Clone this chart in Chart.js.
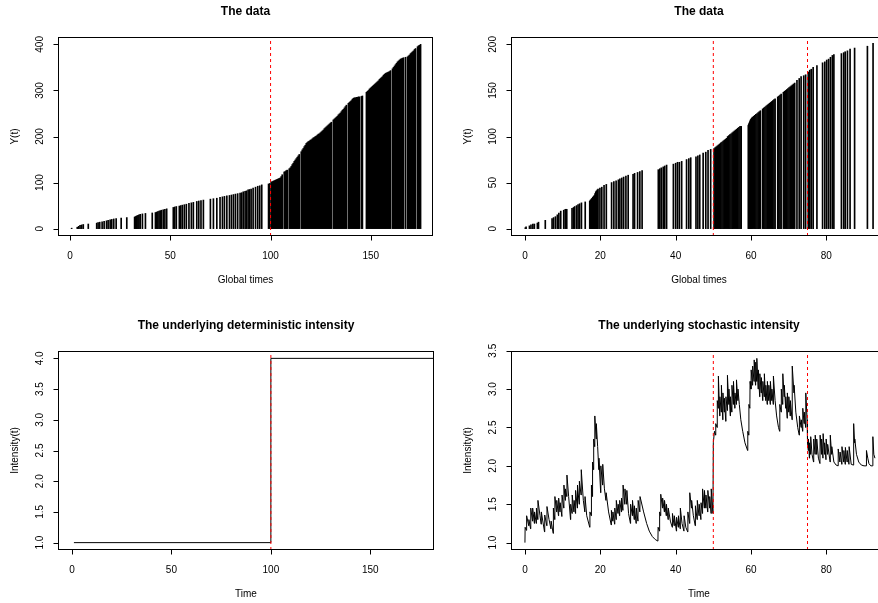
<!DOCTYPE html>
<html>
<head>
<meta charset="utf-8">
<script src="https://cdn.jsdelivr.net/npm/chart.js@4.4.1/dist/chart.umd.min.js"></script>
<style>
  html, body { margin: 0; padding: 0; background: #fff; }
  body { width: 878px; height: 603px; overflow: hidden; position: relative; }
  canvas { position: absolute; }
</style>
</head>
<body>
<canvas id="pTL" width="439" height="300" style="left:0;top:0"></canvas>
<canvas id="pTR" width="460" height="300" style="left:439px;top:0"></canvas>
<canvas id="pBL" width="439" height="303" style="left:0;top:300px"></canvas>
<canvas id="pBR" width="460" height="303" style="left:439px;top:300px"></canvas>
<script>
// --- panel 1: counting process, deterministic intensity (event times / Y(t))
const tlTimes = [0.8,3.6,4.3,5.0,5.8,6.6,9.1,13.3,14.0,14.8,16.0,17.0,18.2,19.0,20.0,20.8,21.8,23.0,25.5,28.3,
  32.2,32.6,33.0,33.4,33.9,34.4,35.0,36.1,37.6,41.0,42.6,43.2,43.8,44.4,45.0,45.6,46.5,47.3,48.2,
  51.5,52.2,53.0,54.5,55.2,56.0,57.0,58.0,59.3,60.5,61.5,63.2,64.2,65.3,66.5,70.0,71.5,73.2,
  74.8,76.0,77.0,78.2,79.5,80.5,81.5,82.5,83.6,84.8,85.6,86.4,87.3,88.0,88.8,89.5,90.3,91.3,92.5,93.6,94.6,95.6,99.0,99.6,
  100.3,100.8,101.3,101.8,102.3,102.8,103.3,103.8,104.3,104.8,105.3,105.8,106.8,107.3,107.8,108.3,
  109.3,109.8,110.3,110.8,111.3,111.8,112.3,112.8,113.3,113.8,114.3,
  115.3,115.8,116.3,116.8,117.3,117.8,118.3,118.8,119.3,119.8,120.3,120.8,121.3,121.8,122.3,122.8,123.3,123.8,
  124.3,124.8,125.3,125.8,126.3,126.8,127.3,127.8,128.3,128.8,129.3,129.8,130.3,
  131.3,131.8,132.3,132.8,133.3,133.8,134.3,134.8,135.3,135.8,136.3,136.8,137.3,137.8,
  138.8,139.3,139.8,140.3,140.8,141.3,141.8,142.3,142.8,143.3,143.8,144.3,145.3,145.8,
  147.8,148.3,148.8,149.3,149.8,150.3,150.8,151.3,151.8,152.3,152.8,153.3,153.8,154.3,154.8,155.3,155.8,156.3,156.8,
  157.3,157.8,158.3,158.8,159.3,159.8,160.8,161.3,161.8,162.3,162.8,163.3,163.8,164.3,164.8,165.3,165.8,166.3,
  167.3,168.3,168.8,169.3,169.8,170.3,170.8,171.3,171.8,172.3,173.3,173.8,174.3,174.8];
const tlCounts = [1,3,5,7,8,9,10,12,13,14,15,16,17,18,19,20,21,22,23,24,
  25,26,27,28,29,30,31,32,33,34,35,36,37,38,39,40,41,42,43,
  46,47,48,49,50,51,52,53,55,56,57,59,60,61,62,64,65,66,
  68,69,70,71,72,73,74,75,76,77,78,80,81,82,84,85,86,88,90,92,93,95,97,98,
  101,102,103,104,105,106,107,108,109,110,113,117,123,124,126,127,
  130,132,135,139,142,146,149,152,155,158,161,
  167,171,174,178,181,185,187,189,190,192,193,195,197,198,200,201,203,205,
  206,208,210,212,214,217,219,221,223,225,227,229,231,
  236,238,240,242,244,247,249,251,254,257,259,262,265,268,
  272,274,276,278,281,283,284,284,285,285,286,286,287,288,
  296,298,300,303,305,307,309,311,313,315,317,319,321,324,326,328,330,333,335,
  337,338,339,340,341,343,347,350,353,356,359,362,364,366,368,369,370,371,
  372,373,375,377,380,382,384,386,389,391,395,397,398,400];
const tlChanges = [100];

// --- panel 2: counting process, stochastic intensity
const trTimes = [0.1,0.3,1.2,1.6,2.1,2.5,3.3,3.6,5.4,7.2,7.6,8.1,8.6,9.0,9.5,10.3,10.7,11.1,12.5,12.9,13.2,
  13.7,14.1,14.5,15.0,16.0,17.2,17.4,17.6,17.8,18.0,18.2,18.4,18.6,18.8,19.0,19.2,19.4,19.9,20.4,21.0,21.6,
  23.0,23.6,24.2,24.8,25.2,25.7,26.2,26.8,27.4,28.7,29.1,29.9,30.5,31.1,35.4,35.8,36.2,36.7,37.1,37.6,
  39.4,40.0,40.5,41.0,41.6,42.9,43.5,44.0,45.4,45.9,46.4,47.3,48.0,48.6,49.3,
  50.2,50.5,50.8,51.1,51.4,51.7,52.0,52.3,52.6,52.9,53.2,53.5,53.8,54.1,54.4,54.7,55.0,55.3,55.6,55.9,56.2,56.5,56.8,57.1,57.4,
  59.3,59.4,59.5,59.6,59.7,59.8,59.9,60.0,60.2,60.4,60.7,61.0,61.3,61.6,61.9,62.2,62.5,
  63.1,63.4,63.7,64.0,64.3,64.6,64.9,65.2,65.5,65.8,66.1,66.4,67.1,67.4,67.7,68.0,
  68.6,68.9,69.2,69.5,69.8,70.1,70.4,70.7,71.0,71.3,71.6,72.2,72.8,73.3,
  74.0,74.5,75.2,75.6,76.0,76.5,77.5,79.0,79.6,80.1,80.6,81.1,81.6,82.0,84.0,84.6,85.0,85.6,86.3,87.5,90.9,92.4];
const trCounts = [1,2,3,4,5,5,6,7,9,11,12,13,15,17,19,20,21,21,22,23,24,
  25,26,27,28,29,30,31,32,33,34,35,36,38,40,41,42,43,44,45,47,48,
  50,51,52,53,54,55,56,57,58,59,60,61,62,63,64,65,66,67,68,69,
  70,71,72,72,73,75,76,77,78,79,80,82,83,85,86,
  87,88,89,90,91,92,93,94,95,96,97,98,100,101,102,103,104,105,106,107,108,109,110,111,111,
  112,113,114,115,116,117,118,119,120,121,122,123,124,125,126,127,128,
  130,131,132,133,134,135,136,137,138,139,140,141,143,144,145,146,
  148,149,150,151,152,153,154,155,156,157,158,161,163,165,
  166,167,170,172,173,175,177,180,181,183,184,186,188,189,190,191,192,193,195,196,198,201];
const trChanges = [50, 75];

// --- panel 3: deterministic intensity
const detTimes = [1, 100, 100, 182];
const detIntensity = [1, 1, 4, 4];
const blChanges = [100];

// --- panel 4: stochastic intensity path
const stoTimes = [0,0.05,0.4,0.45,1.0,1.05,1.5,1.55,2.0,2.05,2.5,2.55,3.0,3.05,3.4,3.45,4.0,4.3,4.35,5.2,5.25,5.8,5.85,6.4,6.9,6.95,7.5,
  7.55,7.9,7.95,8.4,8.45,8.9,8.95,9.3,9.35,9.8,9.85,10.3,10.35,10.7,10.75,11.1,11.15,11.6,
  12.1,12.15,12.5,12.55,13.0,13.05,13.4,13.45,13.9,13.95,14.4,14.45,14.9,14.95,15.5,15.9,15.95,16.4,17.2,
  17.25,17.6,17.65,17.9,17.95,18.2,18.25,18.5,18.55,18.9,18.95,19.3,19.6,19.65,20.1,20.15,20.6,20.65,21.1,21.5,21.55,22.2,22.9,
  22.95,23.3,23.35,23.8,23.85,24.2,24.25,24.7,24.75,25.1,25.15,25.6,25.65,26.0,26.05,26.5,26.55,27.0,27.05,27.5,
  28.0,28.05,28.5,28.55,29.0,29.05,29.5,29.55,30.0,30.05,30.5,30.55,
  31.5,32.3,33.0,33.8,34.6,35.3,
  35.35,35.7,35.75,36.0,36.05,36.5,36.55,37.0,37.05,37.5,37.55,38.0,38.05,38.6,39.1,39.15,39.6,39.65,40.2,40.25,
  40.7,40.75,41.2,41.25,41.7,42.2,42.25,42.7,43.2,43.25,43.7,43.75,44.2,44.25,44.7,45.2,45.25,45.7,45.75,46.2,
  46.25,46.7,46.75,47.1,47.15,47.6,47.65,48.0,48.05,48.5,48.55,49.0,49.05,49.4,49.45,49.9,
  50.0,50.3,50.6,50.65,51.0,51.05,51.3,51.35,51.7,51.75,52.1,52.15,52.5,52.55,52.9,52.95,53.3,53.35,53.7,53.75,
  54.1,54.15,54.5,54.55,54.9,54.95,55.3,55.35,55.7,55.75,56.1,56.15,56.5,56.55,56.9,57.3,57.8,58.4,59.1,
  59.15,59.4,59.45,59.7,59.75,60.0,60.05,60.4,60.45,60.8,60.85,61.2,61.25,61.5,61.55,61.9,61.95,62.3,62.35,62.7,
  62.75,63.1,63.15,63.5,63.55,63.9,63.95,64.3,64.35,64.7,64.75,65.1,65.15,65.5,65.55,65.9,65.95,66.4,66.8,67.3,67.6,
  67.65,68.0,68.05,68.4,68.45,68.8,68.85,69.2,69.25,69.6,69.65,70.0,70.05,70.4,70.45,70.9,70.95,71.4,71.45,71.9,
  72.4,72.8,72.85,73.3,73.35,73.7,73.75,74.1,74.15,74.5,74.55,74.9,
  75.0,75.2,75.25,75.5,75.55,75.8,75.85,76.2,76.6,76.65,77.0,77.05,77.4,77.45,77.9,78.3,78.35,78.7,78.75,79.1,
  79.15,79.5,79.55,79.9,79.95,80.3,80.35,81.0,81.05,81.4,81.45,82.0,82.6,83.1,83.15,83.6,83.65,84.1,84.15,84.6,
  84.65,85.0,85.05,85.5,85.55,86.0,86.05,86.6,87.2,87.25,87.5,87.55,88.0,88.6,89.3,90.0,90.6,90.65,91.0,91.3,
  91.8,92.3,92.35,92.6,92.9];
const stoIntensity = [1.00,1.20,1.16,1.35,1.22,1.30,1.18,1.45,1.28,1.45,1.25,1.40,1.25,1.45,1.30,1.55,1.35,1.24,1.40,1.14,1.36,1.22,1.47,1.30,1.18,1.28,1.12,
  1.45,1.30,1.60,1.40,1.55,1.35,1.58,1.40,1.52,1.34,1.62,1.45,1.75,1.55,1.70,1.60,1.88,1.60,
  1.30,1.50,1.38,1.62,1.40,1.55,1.38,1.68,1.45,1.75,1.50,1.80,1.62,1.95,1.55,1.40,1.60,1.35,1.20,
  1.40,1.35,1.75,1.60,2.05,1.95,2.35,2.25,2.65,2.35,2.55,2.25,1.95,2.10,1.65,2.00,1.75,2.02,1.70,1.55,1.65,1.40,1.23,
  1.42,1.28,1.40,1.24,1.45,1.30,1.55,1.38,1.50,1.35,1.55,1.40,1.58,1.42,1.75,1.50,1.70,1.50,1.68,1.38,
  1.25,1.50,1.35,1.55,1.30,1.48,1.25,1.45,1.28,1.55,1.40,1.60,
  1.40,1.25,1.15,1.08,1.04,1.02,
  1.20,1.15,1.40,1.35,1.63,1.45,1.58,1.40,1.55,1.35,1.50,1.30,1.45,1.28,1.20,1.38,1.22,1.35,1.15,1.33,
  1.20,1.35,1.18,1.45,1.25,1.15,1.35,1.20,1.14,1.40,1.25,1.65,1.45,1.55,1.35,1.22,1.48,1.30,1.55,1.35,
  1.50,1.30,1.52,1.38,1.70,1.45,1.68,1.45,1.62,1.40,1.68,1.45,1.60,1.38,1.70,1.38,
  2.30,2.45,2.40,2.55,2.50,2.85,2.75,3.17,2.65,2.90,2.70,3.05,2.60,2.95,2.70,2.88,2.58,2.90,2.72,3.18,
  2.80,3.00,2.65,2.90,2.70,3.05,2.80,3.10,2.75,2.95,2.80,3.12,2.85,3.00,2.80,2.60,2.45,2.30,2.20,
  2.45,2.40,2.80,2.75,3.10,3.00,3.25,3.05,3.30,3.10,3.38,3.05,3.35,3.10,3.40,3.00,3.25,2.90,3.20,2.95,
  3.15,2.85,3.10,2.90,3.20,2.85,3.05,2.80,3.10,2.85,3.05,2.80,3.10,2.85,3.00,2.80,3.17,2.85,2.65,2.50,2.45,
  2.80,2.70,3.00,2.80,3.20,2.90,3.05,2.75,2.90,2.62,2.95,2.70,2.90,2.65,2.85,2.60,3.30,2.95,3.05,2.70,
  2.50,2.40,2.65,2.50,2.60,2.45,2.75,2.55,2.70,2.50,2.95,2.60,
  2.30,2.20,2.35,2.10,2.30,2.15,2.38,2.15,2.05,2.35,2.15,2.40,2.15,2.35,2.10,2.03,2.40,2.15,2.35,2.10,
  2.42,2.15,2.30,2.08,2.35,2.15,2.28,2.05,2.40,2.15,2.25,2.05,2.01,2.00,2.22,2.05,2.18,2.02,2.25,2.05,
  2.20,2.02,2.24,2.05,2.20,2.02,2.25,2.02,2.01,2.55,2.30,2.35,2.15,2.05,2.01,2.00,2.00,2.20,2.10,2.03,
  2.00,2.00,2.38,2.15,2.10];
const brChanges = [50, 75];

// axis ticks
const longXTicks = [0, 50, 100, 150];
const shortXTicks = [0, 20, 40, 60, 80];
const tlYTicks = [0, 100, 200, 300, 400];
const trYTicks = [0, 50, 100, 150, 200];
const blYTicks = [1.0, 1.5, 2.0, 2.5, 3.0, 3.5, 4.0];
const brYTicks = [1.0, 1.5, 2.0, 2.5, 3.0, 3.5];

const FONT = '"Liberation Sans", Arial, Helvetica, sans-serif';

// R-style frame: box, outward ticks, vertical y labels, titles
const rBase = {
  id: 'rBase',
  afterDatasetsDraw(chart, args, o) {
    const ctx = chart.ctx, a = chart.chartArea, x = chart.scales.x, y = chart.scales.y;
    const L = Math.round(a.left) + 0.5, R = Math.round(a.right) - 0.5;
    const T = Math.round(a.top) + 0.5, B = Math.round(a.bottom) - 0.5;
    ctx.save();
    ctx.setLineDash([]);
    ctx.strokeStyle = '#000';
    ctx.lineWidth = 1;
    ctx.strokeRect(L, T, R - L, B - T);
    ctx.beginPath();
    o.xTicks.forEach(v => {
      const px = Math.round(x.getPixelForValue(v)) + 0.5;
      ctx.moveTo(px, B); ctx.lineTo(px, B + 5);
    });
    o.yTicks.forEach(v => {
      const py = Math.round(y.getPixelForValue(v)) + 0.5;
      ctx.moveTo(L, py); ctx.lineTo(L - 5, py);
    });
    ctx.stroke();

    ctx.fillStyle = '#000';
    ctx.textAlign = 'center';
    ctx.textBaseline = 'middle';
    ctx.font = '10px ' + FONT;
    o.xTicks.forEach(v => ctx.fillText(String(v), x.getPixelForValue(v), a.bottom + 20));
    o.yTicks.forEach(v => {
      ctx.save();
      ctx.translate(a.left - 18, y.getPixelForValue(v));
      ctx.rotate(-Math.PI / 2);
      ctx.fillText(v.toFixed(o.yDigits), 0, 0);
      ctx.restore();
    });
    ctx.fillText(o.xTitle, (a.left + a.right) / 2, a.bottom + 44);
    ctx.save();
    ctx.translate(a.left - 43, (a.top + a.bottom) / 2);
    ctx.rotate(-Math.PI / 2);
    ctx.fillText(o.yTitle, 0, 0);
    ctx.restore();
    ctx.font = 'bold 12px ' + FONT;
    ctx.fillText(o.title, (a.left + a.right) / 2, a.top - 25);
    ctx.restore();
  }
};

function changeLines(times, yr) {
  return times.map(t => ({
    type: 'line',
    data: [{ x: t, y: yr[0] }, { x: t, y: yr[1] }],
    borderColor: '#ff0000',
    borderWidth: 1,
    borderDash: [3, 3],
    pointRadius: 0,
    order: 0
  }));
}

function panel(id, type, datasets, xr, yr, pad, frame) {
  return new Chart(document.getElementById(id), {
    type: type,
    data: { datasets: datasets },
    options: {
      responsive: false,
      animation: false,
      devicePixelRatio: 1,
      layout: { padding: pad },
      plugins: { legend: { display: false }, tooltip: { enabled: false }, rBase: frame },
      scales: {
        x: { type: 'linear', min: xr[0], max: xr[1], display: false, offset: false },
        y: { type: 'linear', min: yr[0], max: yr[1], display: false }
      }
    },
    plugins: [rBase]
  });
}

function spikes(times, counts) {
  return {
    type: 'bar',
    data: times.map((t, i) => ({ x: t, y: counts[i] })),
    backgroundColor: '#000',
    borderWidth: 0,
    barThickness: 1,
    order: 1
  };
}

try {
  const tlY = [-16, 416];
  panel('pTL', 'bar', [spikes(tlTimes, tlCounts)].concat(changeLines(tlChanges, tlY)),
    [-6, 181], tlY, { left: 58, top: 37, right: 6, bottom: 64 },
    { title: 'The data', xTitle: 'Global times', yTitle: 'Y(t)', xTicks: longXTicks, yTicks: tlYTicks, yDigits: 0 });

  const trY = [-8, 208];
  panel('pTR', 'bar', [spikes(trTimes, trCounts)].concat(changeLines(trChanges, trY)),
    [-3.7, 96.1], trY, { left: 72, top: 37, right: 12, bottom: 64 },
    { title: 'The data', xTitle: 'Global times', yTitle: 'Y(t)', xTicks: shortXTicks, yTicks: trYTicks, yDigits: 0 });

  const blY = [0.88, 4.12];
  panel('pBL', 'line', [{
      data: detTimes.map((t, i) => ({ x: t, y: detIntensity[i] })),
      borderColor: '#000', borderWidth: 1, pointRadius: 0, order: 1
    }].concat(changeLines(blChanges, blY)),
    [-7, 182], blY, { left: 58, top: 51, right: 5, bottom: 53 },
    { title: 'The underlying deterministic intensity', xTitle: 'Time', yTitle: 'Intensity(t)', xTicks: longXTicks, yTicks: blYTicks, yDigits: 1 });

  const brY = [0.904, 3.496];
  panel('pBR', 'line', [{
      data: stoTimes.map((t, i) => ({ x: t, y: stoIntensity[i] })),
      borderColor: '#000', borderWidth: 1, pointRadius: 0, order: 1
    }].concat(changeLines(brChanges, brY)),
    [-3.7, 96.1], brY, { left: 72, top: 51, right: 12, bottom: 53 },
    { title: 'The underlying stochastic intensity', xTitle: 'Time', yTitle: 'Intensity(t)', xTicks: shortXTicks, yTicks: brYTicks, yDigits: 1 });
} catch (e) {
  console.error('chart init failed', e);
}
</script>
</body>
</html>
